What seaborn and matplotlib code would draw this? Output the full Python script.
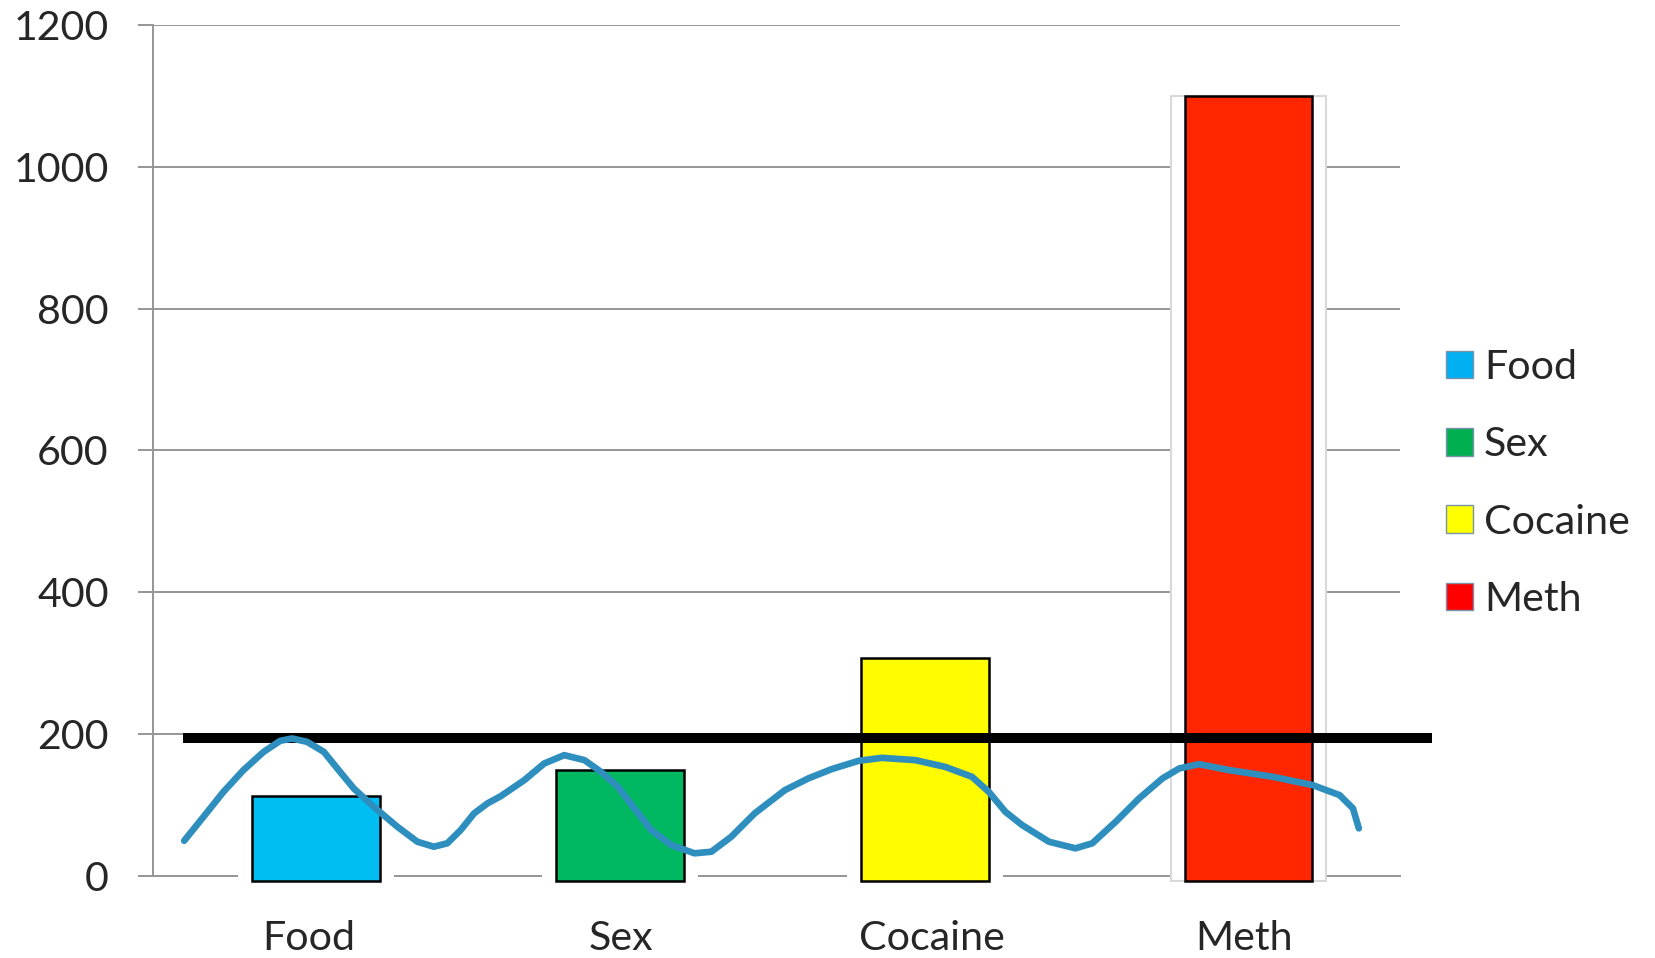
import matplotlib
matplotlib.use("Agg")
import matplotlib.pyplot as plt
import seaborn as sns
from matplotlib.patches import Patch
from matplotlib.ticker import FixedLocator

# ---------------- data ----------------
categories = ["Food", "Sex", "Cocaine", "Meth"]
values = [113, 150, 308, 1100]
bar_colors = ["#00bdf2", "#00b862", "#fffb00", "#ff2600"]
legend_colors = ["#00b0f0", "#00b050", "#ffff00", "#ff0000"]
threshold = 194
y_ticks = [0, 200, 400, 600, 800, 1000, 1200]

# hand-drawn blue curve (x in category units, y in data units)
curve_x = [-0.400, -0.338, -0.274, -0.210, -0.145, -0.092, -0.054, -0.006, 0.048, 0.091,
           0.144, 0.208, 0.284, 0.348, 0.401, 0.444, 0.487, 0.530, 0.573, 0.616,
           0.691, 0.755, 0.819, 0.884, 0.937, 0.991, 1.044, 1.098, 1.162, 1.237,
           1.291, 1.355, 1.430, 1.527, 1.602, 1.677, 1.763, 1.838, 1.945, 2.041,
           2.127, 2.181, 2.234, 2.288, 2.374, 2.459, 2.513, 2.588, 2.663, 2.738,
           2.792, 2.856, 2.952, 3.092, 3.220, 3.306, 3.349, 3.368]
curve_y = [49.7, 83.5, 118.7, 149.3, 175.1, 190.6, 193.9, 189.2, 175.1, 151.7,
           123.5, 97.6, 69.4, 48.3, 41.3, 46.1, 64.8, 88.3, 102.4, 112.7,
           135.2, 158.7, 170.4, 163.4, 146.9, 125.8, 95.4, 64.8, 43.7, 32.0,
           34.2, 55.4, 88.3, 121.1, 137.6, 150.7, 162.4, 166.6, 163.4, 153.9,
           139.9, 118.7, 90.6, 71.8, 48.3, 39.0, 46.1, 76.5, 109.4, 137.6,
           151.7, 157.7, 149.3, 139.9, 128.2, 114.1, 95.4, 67.2]

# ---------------- style ----------------
sns.set_style("white")
plt.rcParams["font.family"] = ["Lato", "DejaVu Sans"]
FS = 29.6
GRID = "#969696"

W, H = 1655, 958
fig = plt.figure(figsize=(W / 100, H / 100), dpi=100)
ax = fig.add_axes([153 / W, 1 - 876 / H, (1400 - 153) / W, (876 - 25) / H])

# white background blocks behind bars
sns.barplot(x=categories, y=values, color="white", width=0.5, saturation=1,
            linewidth=0, errorbar=None, zorder=2.6, ax=ax)
# coloured bars
sns.barplot(x=categories, y=values, hue=categories, palette=bar_colors, width=0.41,
            saturation=1, edgecolor="black", linewidth=1.8, errorbar=None,
            legend=False, zorder=2.7, ax=ax)

# small hand-placed offsets of the bars as in the original slide
shift = [0.024, -0.003, -0.024, 0.014]
off = 7
for i, p in enumerate(ax.patches):
    p.set_y(-off)
    p.set_height(p.get_height() + off)
    p.set_x(p.get_x() + shift[i % 4])
    p.set_clip_on(False)
white = ax.patches[:4]
white[3].set_edgecolor("#d9d9d9")
white[3].set_linewidth(1.5)

# threshold line
ax.axhline(threshold, xmin=30 / 1247, xmax=1279 / 1247, color="black", lw=7.2,
           clip_on=False, zorder=3, solid_capstyle="butt")

# blue hand-drawn curve
sns.lineplot(x=curve_x, y=curve_y, sort=False, estimator=None, color="#2e8fbf",
             lw=4.8, ax=ax, zorder=3.5, solid_capstyle="round", solid_joinstyle="round")

# axes
ax.set_xlim(-0.5, 3.5)
ax.set_ylim(0, 1200)
ax.set_yticks(y_ticks)
ax.set_yticklabels([str(t) for t in y_ticks])
ax.set_xticks(range(len(categories)))
ax.set_xticklabels(categories)
ax.xaxis.set_minor_locator(FixedLocator([-0.5, 0.5, 1.5, 2.5, 3.5]))
ax.grid(axis="y", color=GRID, lw=1.4)
ax.set_axisbelow(True)
for s in ["top", "right"]:
    ax.spines[s].set_visible(False)
ax.spines["left"].set_color(GRID)
ax.spines["left"].set_linewidth(1.4)
ax.spines["bottom"].set_color(GRID)
ax.spines["bottom"].set_linewidth(1.4)
ax.tick_params(axis="x", which="major", length=0, pad=32, labelsize=FS)
ax.tick_params(axis="x", which="minor", length=11.5, width=1.4, color=GRID, direction="out")
ax.tick_params(axis="y", length=10.8, width=1.4, color=GRID, pad=21, labelsize=FS, left=True)
ax.set_xlabel("")
ax.set_ylabel("")

# legend
handles = [Patch(facecolor=c, edgecolor="#7a93ad", linewidth=1) for c in legend_colors]
fig.legend(handles, categories, loc="center left",
           bbox_to_anchor=(1446 / W, 1 - 483.5 / H), frameon=False, fontsize=FS,
           handlelength=0.66, handleheight=0.66, handletextpad=0.26,
           labelspacing=0.98, borderpad=0, borderaxespad=0)

fig.savefig("out.png", dpi=100)
